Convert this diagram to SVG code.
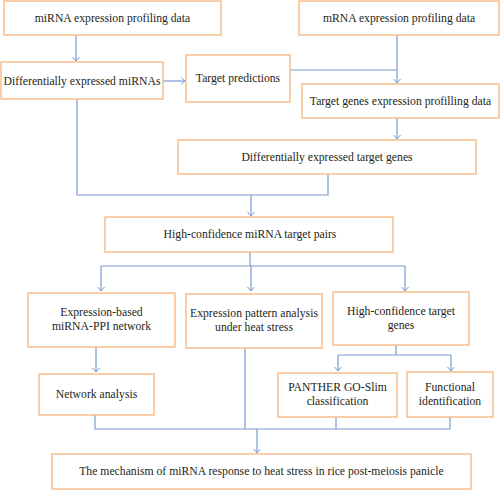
<svg xmlns="http://www.w3.org/2000/svg" width="500" height="490" viewBox="0 0 500 490">
<defs>
<marker id="arr" markerWidth="10" markerHeight="10" refX="5" refY="5" orient="auto" markerUnits="userSpaceOnUse">
<path d="M1,1.5 L5,5 L1,8.5" fill="none" stroke="#7A9AD4" stroke-width="1"/>
</marker>
<style>
.box{fill:#fff;stroke:#F6B47C;stroke-width:1.3}
.t{font-family:"Liberation Serif","Times New Roman",serif;font-size:11.7px;fill:#231F20;text-anchor:middle}
.c{fill:none;stroke:#7A9AD4;stroke-width:1.2}
</style>
</defs>
<rect width="500" height="490" fill="#fff"/>
<g id="connectors">
<path class="c" d="M76,35 V61" marker-end="url(#arr)"/>
<path class="c" d="M163,81 H185" marker-end="url(#arr)"/>
<path class="c" d="M397,35 V83" marker-end="url(#arr)"/>
<path class="c" d="M290,70 H397"/>
<path class="c" d="M397,118 V139" marker-end="url(#arr)"/>
<path class="c" d="M77,99 V195 H328 V174"/>
<path class="c" d="M251,195 V216" marker-end="url(#arr)"/>
<path class="c" d="M250,252 V266"/>
<path class="c" d="M101,266 H405"/>
<path class="c" d="M101,266 V291" marker-end="url(#arr)"/>
<path class="c" d="M251,266 V291" marker-end="url(#arr)"/>
<path class="c" d="M405,266 V291" marker-end="url(#arr)"/>
<path class="c" d="M96,347 V372" marker-end="url(#arr)"/>
<path class="c" d="M396,345 V355 M338,355 H451"/>
<path class="c" d="M338,355 V371" marker-end="url(#arr)"/>
<path class="c" d="M451,355 V371" marker-end="url(#arr)"/>
<path class="c" d="M95,415 V429 H450 V417 M245,348 V429 M336,417 V429"/>
<path class="c" d="M257,429 V453" marker-end="url(#arr)"/>
</g>
<g id="n1"><rect class="box" x="4" y="1" width="217" height="34"/><text class="t" x="112.5" y="22">miRNA expression profiling data</text></g>
<g id="n2"><rect class="box" x="299" y="1" width="200" height="34"/><text class="t" x="399" y="22">mRNA expression profiling data</text></g>
<g id="n3"><rect class="box" x="1" y="62" width="162" height="37"/><text class="t" x="82" y="85">Differentially expressed miRNAs</text></g>
<g id="n4"><rect class="box" x="186" y="55" width="104" height="47"/><text class="t" x="238" y="82">Target predictions</text></g>
<g id="n5"><rect class="box" x="302" y="84" width="197" height="34"/><text class="t" x="400.5" y="105">Target genes expression profilling data</text></g>
<g id="n6"><rect class="box" x="178" y="140" width="298" height="34"/><text class="t" x="327" y="161">Differentially expressed target genes</text></g>
<g id="n7"><rect class="box" x="105" y="217" width="288" height="35"/><text class="t" x="250" y="238">High-confidence miRNA target pairs</text></g>
<g id="n8"><rect class="box" x="28" y="293" width="147" height="54"/><text class="t" x="101.5" y="316">Expression-based</text><text class="t" x="101.5" y="330">miRNA-PPI network</text></g>
<g id="n9"><rect class="box" x="186" y="294" width="136" height="54"/><text class="t" x="254" y="317">Expression pattern analysis</text><text class="t" x="254" y="331">under heat stress</text></g>
<g id="n10"><rect class="box" x="333" y="292" width="136" height="53"/><text class="t" x="401" y="315">High-confidence target</text><text class="t" x="401" y="329">genes</text></g>
<g id="n11"><rect class="box" x="39" y="374" width="115" height="41"/><text class="t" x="96.5" y="398">Network analysis</text></g>
<g id="n12"><rect class="box" x="278" y="373" width="119" height="44"/><text class="t" x="337.5" y="391">PANTHER GO-Slim</text><text class="t" x="337.5" y="405">classification</text></g>
<g id="n13"><rect class="box" x="407" y="372" width="86" height="45"/><text class="t" x="450" y="391">Functional</text><text class="t" x="450" y="405">identification</text></g>
<g id="n14"><rect class="box" x="52" y="454" width="419" height="35"/><text class="t" x="261.5" y="475">The mechanism of miRNA response to heat stress in rice post-meiosis panicle</text></g>
</svg>
